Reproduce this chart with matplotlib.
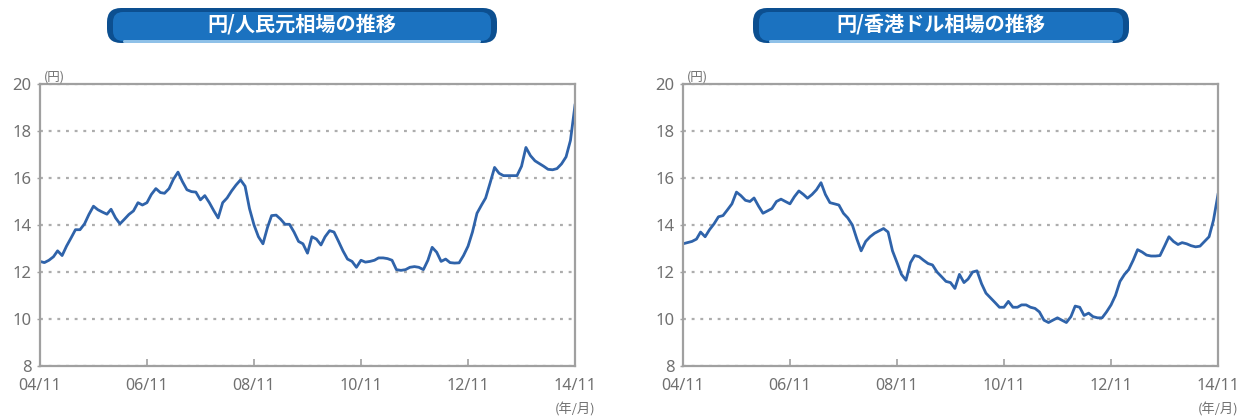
import matplotlib as mpl

mpl.use("Agg")
import matplotlib.pyplot as plt
from matplotlib.patches import FancyBboxPatch
import pandas as pd

plt.rcParams["font.family"] = ["Noto Sans", "Noto Sans CJK JP", "DejaVu Sans"]
CJK = ["Noto Sans CJK JP", "DejaVu Sans"]

# monthly points, 2004/11 .. 2014/11
months = pd.date_range("2004-11-01", "2014-11-01", freq="MS")

cny = [
    12.45, 12.4, 12.5, 12.65, 12.9, 12.7, 13.1, 13.45, 13.8, 13.8,
    14.05, 14.45, 14.8, 14.65, 14.55, 14.46, 14.67, 14.3, 14.05, 14.25,
    14.45, 14.6, 14.95, 14.85, 14.95, 15.3, 15.55, 15.38, 15.35, 15.55,
    15.95, 16.25, 15.85, 15.5, 15.42, 15.4, 15.07, 15.25, 14.95, 14.6,
    14.3, 14.95, 15.15, 15.45, 15.7, 15.92, 15.65, 14.7, 14.0, 13.5,
    13.2, 13.9, 14.4, 14.42, 14.25, 14.03, 14.03, 13.7, 13.3, 13.2,
    12.8, 13.5, 13.4, 13.15, 13.5, 13.76, 13.7, 13.3, 12.9, 12.55,
    12.45, 12.2, 12.5, 12.42, 12.45, 12.5, 12.6, 12.6, 12.57, 12.5,
    12.1, 12.07, 12.1, 12.2, 12.23, 12.2, 12.1, 12.5, 13.05, 12.84,
    12.45, 12.55, 12.4, 12.38, 12.39, 12.7, 13.1, 13.7, 14.5, 14.85,
    15.15, 15.8, 16.45, 16.2, 16.1, 16.1, 16.1, 16.1, 16.5, 17.3,
    16.95, 16.73, 16.62, 16.5, 16.37, 16.35, 16.4, 16.6, 16.9, 17.6,
    19.1,
]

hkd = [
    13.2, 13.25, 13.3, 13.4, 13.7, 13.5, 13.8, 14.05, 14.35, 14.4,
    14.65, 14.9, 15.4, 15.25, 15.05, 15.0, 15.15, 14.8, 14.5, 14.6,
    14.7, 15.0, 15.1, 15.0, 14.9, 15.2, 15.45, 15.3, 15.14, 15.3,
    15.5, 15.8, 15.3, 14.95, 14.9, 14.85, 14.5, 14.3, 14.0, 13.4,
    12.9, 13.3, 13.5, 13.65, 13.75, 13.85, 13.7, 12.9, 12.4, 11.9,
    11.65, 12.4, 12.7, 12.65, 12.5, 12.36, 12.3, 12.0, 11.8, 11.6,
    11.55, 11.3, 11.9, 11.55, 11.7, 12.0, 12.05, 11.5, 11.1, 10.9,
    10.7, 10.5, 10.5, 10.75, 10.5, 10.5, 10.6, 10.6, 10.5, 10.45,
    10.3, 9.95, 9.85, 9.95, 10.05, 9.95, 9.85, 10.1, 10.55, 10.5,
    10.15, 10.25, 10.1, 10.05, 10.05, 10.3, 10.6, 11.0, 11.6, 11.9,
    12.1, 12.5, 12.95, 12.85, 12.72, 12.68, 12.68, 12.7, 13.1, 13.5,
    13.3, 13.17, 13.25, 13.2, 13.12, 13.07, 13.1, 13.3, 13.5, 14.2,
    15.3,
]

titles = ["円/人民元相場の推移", "円/香港ドル相場の推移"]
tick_dates = pd.date_range("2004-11-01", "2014-11-01", freq="24MS")
tick_labels = ["04/11", "06/11", "08/11", "10/11", "12/11", "14/11"]
y_ticks = [8, 10, 12, 14, 16, 18, 20]

W, H = 1248, 417
fig = plt.figure(figsize=(W / 100, H / 100), dpi=100)

line_color = "#2f63aa"
spine_color = "#a0a0a0"
text_color = "#707070"

# pixel boxes: (left, top, right, bottom) for axes and banners
axes_px = [(40, 84, 575, 366), (683, 84, 1218, 366)]
banner_px = [(105, 6, 499, 46), (751, 6, 1131, 46)]


def px_rect(box):
    l, t, r, b = box
    return [l / W, 1 - b / H, (r - l) / W, (b - t) / H]


for series, title, apx, bpx in zip([cny, hkd], titles, axes_px, banner_px):
    ax = fig.add_axes(px_rect(apx))
    ax.plot(months, series, color=line_color, lw=2.0, solid_joinstyle="round")
    ax.set_xlim(months[0], months[-1])
    ax.set_ylim(8, 20)
    ax.set_yticks(y_ticks)
    ax.set_xticks(tick_dates)
    ax.set_xticklabels(tick_labels)
    ax.yaxis.grid(True, linestyle=(0, (1.3, 2.6)), color="#adadad", lw=1.6)
    ax.tick_params(axis="y", direction="out", length=2, width=1,
                   color=spine_color, labelcolor=text_color, labelsize=12, pad=4)
    ax.tick_params(axis="x", direction="in", length=5, width=1.2,
                   color=spine_color, labelcolor=text_color, labelsize=11.5, pad=9)
    for s in ax.spines.values():
        s.set_color(spine_color)
        s.set_linewidth(1.6)
    ax.text(0.008, 1.003, "(円)", transform=ax.transAxes, ha="left", va="bottom",
            fontsize=9, color=text_color, family=CJK)
    ax.text(1.0, -0.13, "(年/月)", transform=ax.transAxes, ha="center", va="top",
            fontsize=9.5, color=text_color, family=CJK)

    # title banner
    bw = bpx[2] - bpx[0]
    bh = bpx[3] - bpx[1]
    bax = fig.add_axes(px_rect(bpx))
    bax.set_xlim(0, bw)
    bax.set_ylim(0, bh)
    bax.axis("off")
    bax.add_patch(FancyBboxPatch((2, 3), bw - 4, bh - 5,
                                 boxstyle="round,pad=0,rounding_size=14",
                                 facecolor="#0c4f90", edgecolor="none"))
    bax.add_patch(FancyBboxPatch((8, 5), bw - 16, bh - 11,
                                 boxstyle="round,pad=0,rounding_size=10",
                                 facecolor="#1b72c0", edgecolor="none"))
    bax.add_patch(FancyBboxPatch((18, 3), bw - 36, 3,
                                 boxstyle="round,pad=0,rounding_size=1.5",
                                 facecolor="#8fc1e8", edgecolor="none"))
    bax.text(bw / 2, bh / 2 + 2, title, ha="center", va="center",
             fontsize=14.5, fontweight="bold", color="white", family=CJK)

fig.savefig("out.png", dpi=100)
